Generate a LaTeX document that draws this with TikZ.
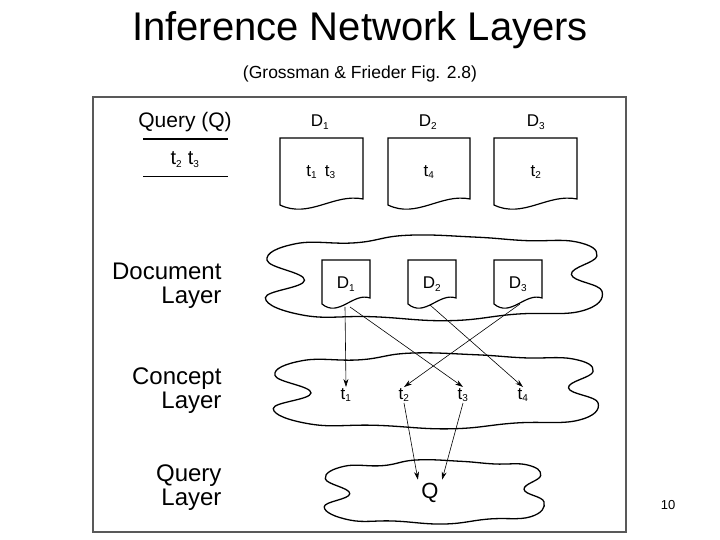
\documentclass[tikz,border=0pt]{standalone}
\usepackage{fontspec}
\setmainfont{Liberation Sans}
\usetikzlibrary{arrows.meta}
\newcommand{\fs}[1]{\fontsize{#1}{#1}\selectfont}
\newcommand{\sub}[1]{\textsubscript{\fs{10}#1}}
% document outline: left right top bottom (y up)
\newcommand{\docpath}[4]{%
  \draw[line width=1.2pt] (#1,#4) -- (#1,#3) -- (#2,#3) -- (#2,#4+6)
    .. controls ({#2-0.35*(#2-#1)},#4+12) and ({#1+0.35*(#2-#1)},#4-14) .. (#1,#4) -- cycle;}
% cloud: cx cy rx ry
\newcommand{\cloudpath}[4]{%
  \draw[line width=1.3pt, shift={(#1,#2)}, xscale=#3, yscale=#4]
    plot[smooth cycle, tension=0.75] coordinates {(-0.97,0.4) (-0.8,0.78) (-0.45,0.8) (-0.15,0.97) (0.25,0.93) (0.55,0.85) (0.85,0.82) (0.97,0.5) (0.82,0.08) (1,-0.3) (0.88,-0.75) (0.5,-0.82) (0.1,-0.97) (-0.35,-0.88) (-0.75,-0.85) (-0.98,-0.45) (-0.75,-0.05)};}
\tikzset{lbl/.style={align=right, anchor=east, font=\fs{24}},
  arr/.style={-{Stealth[length=8pt,width=5pt]}, line width=0.6pt},
  dl/.style={font=\fs{17}}, tt/.style={font=\fs{17}, inner sep=1pt}}
\begin{document}
\begin{tikzpicture}[x=1pt,y=1pt]
\useasboundingbox (0,0) rectangle (720,540);
\node (title) at (360,510) {\fs{40}Inference Network Layers};
\node (subt) at (360,466) {\fs{17.5}(Grossman \& Frieder Fig. 2.8)};
\draw[gray!70!black, line width=1.8pt] (93,443) rectangle (626,8);
\node (query) at (185,418) {\fs{21}Query (Q)};
\draw[line width=2.4pt] (143,401) -- (228,401);
\node (qt) at (185,380) {\fs{20}t\sub{2} t\sub{3}};
\draw[line width=0.8pt] (143,364) -- (228,364);
% top documents
\node[dl] (D1l) at (320,418) {D\sub{1}};
\node[dl] (D2l) at (428,418) {D\sub{2}};
\node[dl] (D3l) at (536,418) {D\sub{3}};
\docpath{280}{363}{402}{335}
\docpath{388}{470}{402}{335}
\docpath{494}{577}{402}{335}
\node[dl] (d1t) at (321,368) {t\sub{1}\, t\sub{3}};
\node[dl] (d2t) at (429,368) {t\sub{4}};
\node[dl] (d3t) at (536,368) {t\sub{2}};
% layer labels
\node[lbl] (docl) at (225,254) {Document\\Layer};
\node[lbl] (conl) at (225,149) {Concept\\Layer};
\node[lbl] (ql) at (225,52) {Query\\Layer};
% clouds
\cloudpath{432}{262}{170}{44}
\cloudpath{434}{149}{164}{39}
\cloudpath{433}{48}{111}{33}
% inner docs
\docpath{322}{370}{280}{236}
\docpath{408}{456}{280}{236}
\docpath{494}{542}{280}{236}
\node[dl] (D1) at (346,256) {D\sub{1}};
\node[dl] (D2) at (432,256) {D\sub{2}};
\node[dl] (D3) at (518,256) {D\sub{3}};
\coordinate (D1a) at (345,233);
\coordinate (D1b) at (350,233);
\coordinate (D2a) at (430,235);
\coordinate (D3a) at (520,236);
\node[tt] (t1) at (346,145) {t\sub{1}};
\node[tt] (t2) at (404,145) {t\sub{2}};
\node[tt] (t3) at (463,145) {t\sub{3}};
\node[tt] (t4) at (523,145) {t\sub{4}};
\node (Q) at (430,47) {\fs{22}Q};
\draw[arr] (D1a) -- (t1.north);
\draw[arr] (D1b) -- (t3.north);
\draw[arr] (D2a) -- (t4.north);
\draw[arr] (D3a) -- (t2.north);
\draw[arr] (t2.south) -- (Q.north west);
\draw[arr] (t3.south) -- (Q.north east);
\node (pg) at (668,35) {\fs{13}10};
\end{tikzpicture}
\end{document}
